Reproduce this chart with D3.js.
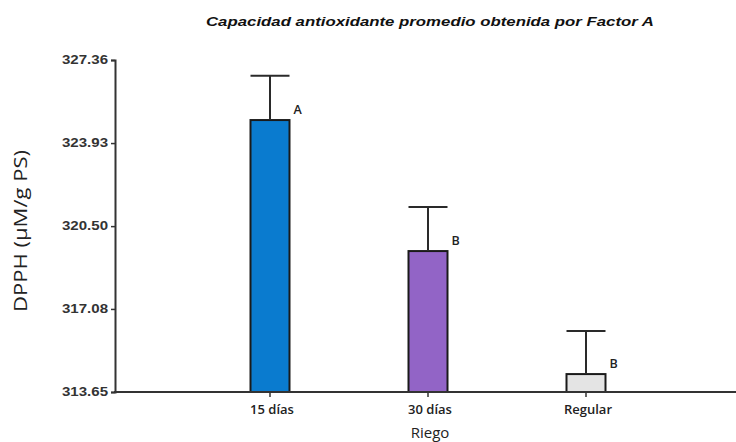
<!DOCTYPE html>
<html><head><meta charset="utf-8">
<script src="https://cdn.jsdelivr.net/npm/d3@7"></script>
<style>body{margin:0;background:#fff}svg{display:block;font-family:"Liberation Sans",Arial,sans-serif}</style>
</head><body>
<script>
const categories = ["15 días", "30 días", "Regular"];
const means = [324.88, 319.47, 314.39];
const errUpper = [326.71, 321.29, 316.17];
const groups = ["A", "B", "B"];
const colors = ["#0a7bcf", "#9264c6", "#e4e4e4"];
const yTicks = [313.65, 317.08, 320.50, 323.93, 327.36];

const W = 736, H = 442;
const svg = d3.select("body").append("svg").attr("width", W).attr("height", H);

const x = d3.scalePoint().domain(categories).range([270, 586]);
const y = d3.scaleLinear().domain([313.65, 327.36]).range([392, 60]);
const bw = 39;

svg.append("text").attr("x", 430).attr("y", 26).attr("text-anchor", "middle")
  .attr("font-size", 13.5).attr("font-weight", "bold").attr("font-style", "italic")
  .attr("fill", "#111").attr("textLength", 448).attr("lengthAdjust", "spacingAndGlyphs")
  .text("Capacidad antioxidante promedio obtenida por Factor A");

// bars
svg.selectAll("rect.bar").data(categories).enter().append("rect")
  .attr("x", d => x(d) - bw / 2).attr("width", bw)
  .attr("y", (d, i) => y(means[i])).attr("height", (d, i) => y(313.65) - y(means[i]))
  .attr("fill", (d, i) => colors[i]).attr("stroke", "#1a1a1a").attr("stroke-width", 2);

// error bars
const eb = svg.append("g").attr("stroke", "#2a2a2a").attr("stroke-width", 2);
categories.forEach((c, i) => {
  eb.append("line").attr("x1", x(c)).attr("x2", x(c)).attr("y1", y(means[i])).attr("y2", y(errUpper[i]));
  eb.append("line").attr("x1", x(c) - bw / 2).attr("x2", x(c) + bw / 2).attr("y1", y(errUpper[i])).attr("y2", y(errUpper[i]));
});

// group letters
svg.selectAll("text.grp").data(categories).enter().append("text")
  .attr("x", d => x(d) + bw / 2 + 4).attr("y", (d, i) => y(means[i]) - 6)
  .attr("font-size", 12.5).attr("font-weight", 600).attr("fill", "#222")
  .attr("font-family", "'Open Sans','Liberation Sans',sans-serif").text((d, i) => groups[i]);

// y axis
const ya = svg.append("g").attr("transform", "translate(115,0)")
  .call(d3.axisLeft(y).tickValues(yTicks).tickFormat(d3.format(".2f")).tickSize(4).tickPadding(3));
ya.select(".domain").attr("stroke", "#333").attr("stroke-width", 2);
ya.selectAll(".tick line").attr("stroke", "#333").attr("stroke-width", 1.5);
ya.selectAll(".tick text").attr("font-size", 12.5).attr("font-weight", "bold").attr("fill", "#333")
  .attr("dy", "0.3em")
  .attr("textLength", 46).attr("lengthAdjust", "spacingAndGlyphs");

// x axis
const xa = svg.append("g").attr("transform", "translate(0,392)");
xa.append("line").attr("x1", 114).attr("x2", W).attr("y1", 0).attr("y2", 0).attr("stroke", "#333").attr("stroke-width", 2);
xa.selectAll("line.tk").data(categories).enter().append("line")
  .attr("x1", d => x(d)).attr("x2", d => x(d)).attr("y1", 0).attr("y2", 5).attr("stroke", "#333").attr("stroke-width", 1.5);
xa.selectAll("text").data(categories).enter().append("text")
  .attr("x", d => x(d) + 2).attr("y", 22).attr("text-anchor", "middle").attr("font-size", 13).attr("font-weight", 600).attr("fill", "#222")
  .attr("font-family", "'Open Sans','Liberation Sans',sans-serif").text(d => d);

svg.append("text").attr("x", 430).attr("y", 438).attr("text-anchor", "middle").attr("font-size", 15)
  .attr("font-family", "'Open Sans','Liberation Sans',sans-serif").attr("fill", "#222").text("Riego");

svg.append("text").attr("transform", "translate(27,231) rotate(-90)").attr("text-anchor", "middle")
  .attr("font-size", 19).attr("font-family", "'Open Sans','Liberation Sans',sans-serif").attr("fill", "#222")
  .attr("textLength", 162).attr("lengthAdjust", "spacingAndGlyphs")
  .text("DPPH (µM/g PS)");
</script>
</body></html>
